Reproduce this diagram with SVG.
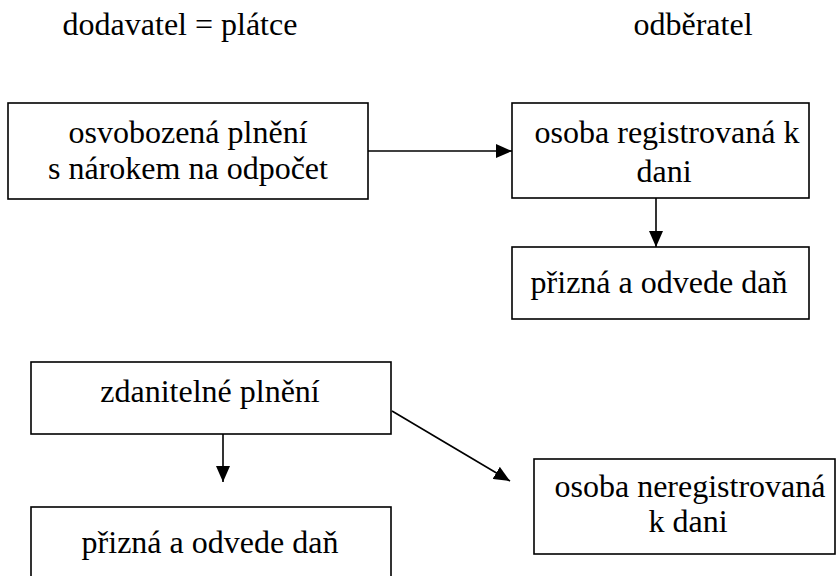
<svg xmlns="http://www.w3.org/2000/svg" width="837" height="576" viewBox="0 0 837 576">
<style>
.box{fill:#fff;stroke:#000;stroke-width:1.6}
.c{stroke:#000;stroke-width:1.6;fill:none}
</style>
<defs>
<marker id="ah" viewBox="0 0 16 14" refX="16" refY="7" markerWidth="16" markerHeight="14" markerUnits="userSpaceOnUse" orient="auto">
<path d="M0,0 L16,7 L0,14 z" fill="#000"/>
</marker>
</defs>
<rect width="837" height="576" fill="#fff"/>
<g font-family="'Liberation Serif', 'Times New Roman', 'DejaVu Serif', serif" font-size="32" fill="#000" text-anchor="middle">
<text x="180" y="35">dodavatel = plátce</text>
<text x="693" y="35">odběratel</text>
<g id="connectors">
<line class="c" x1="368" y1="151" x2="512" y2="151" marker-end="url(#ah)"/>
<line class="c" x1="656" y1="198" x2="656" y2="247" marker-end="url(#ah)"/>
<line class="c" x1="223" y1="434" x2="223" y2="482" marker-end="url(#ah)"/>
<line class="c" x1="392" y1="411" x2="510" y2="481" marker-end="url(#ah)"/>
</g>
<g id="n1"><rect class="box" x="8" y="103" width="360" height="96"/><text x="188" y="143">osvobozená plnění</text><text x="188" y="179">s nárokem na odpočet</text></g>
<g id="n2"><rect class="box" x="512" y="103" width="297" height="95"/><text x="667" y="143">osoba registrovaná k</text><text x="664" y="182">dani</text></g>
<g id="n3"><rect class="box" x="512" y="247" width="297" height="72"/><text x="659" y="293">přizná a odvede daň</text></g>
<g id="n4"><rect class="box" x="31" y="362" width="360" height="72"/><text x="210" y="402">zdanitelné plnění</text></g>
<g id="n5"><rect class="box" x="31" y="507" width="360" height="72"/><text x="210" y="553">přizná a odvede daň</text></g>
<g id="n6"><rect class="box" x="534" y="459" width="301" height="95"/><text x="690" y="497">osoba neregistrovaná</text><text x="688" y="532">k dani</text></g>
</g>
</svg>
